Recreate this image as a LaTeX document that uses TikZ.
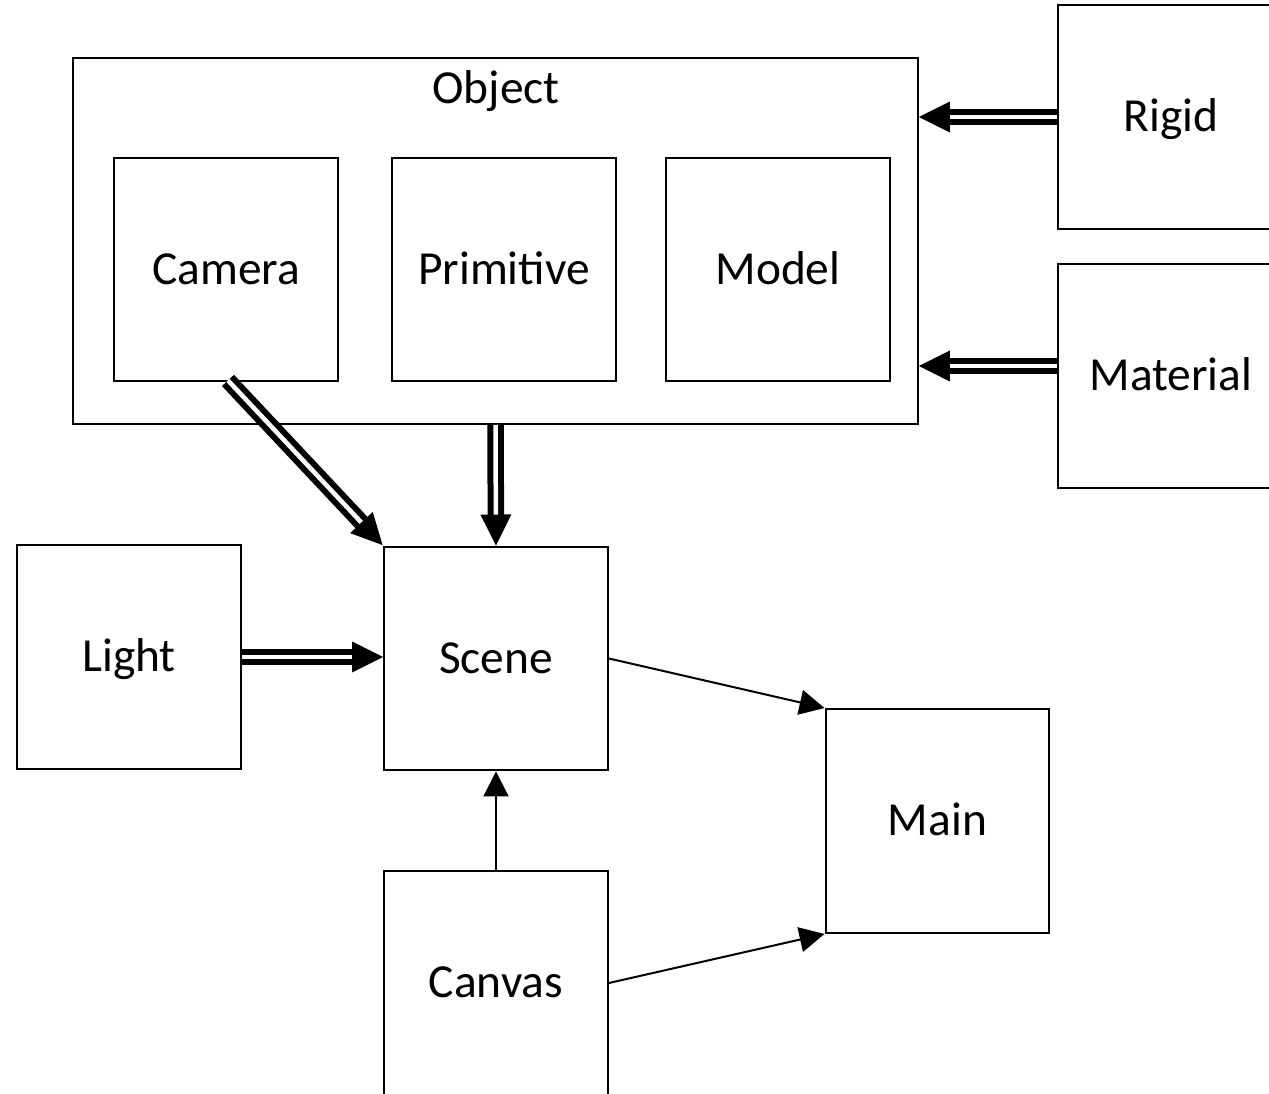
\documentclass[tikz,border=0pt]{standalone}
\usepackage{fontspec}
\setmainfont{Carlito}
\usetikzlibrary{arrows.meta,calc,decorations.markings}
\tikzset{
  txt/.style={font=\fontsize{27}{32}\selectfont, text height=0.6cm, text depth=0cm},
  box/.style={draw, line width=0.04cm, rectangle, inner sep=0pt, minimum width=4.48cm, minimum height=4.48cm, txt},
  dbl/.style={draw, double, double distance=0.09cm, line width=0.12cm, shorten >=0.4cm,
    postaction={decorate, decoration={markings, mark=at position 1 with {\fill[black] (0,0) -- (-0.62cm,0.31cm) -- (-0.62cm,-0.31cm) -- cycle;}}}},
  sgl/.style={draw, line width=0.04cm, -{Triangle[length=0.5cm,width=0.5cm]}}
}
\begin{document}
\begin{tikzpicture}[x=0.02cm,y=-0.02cm]
\useasboundingbox (0,0) rectangle (1269,1094);
\clip (0,0) rectangle (1269,1094);
% Object container
\node[draw, line width=0.04cm, inner sep=0pt, minimum width=16.9cm, minimum height=7.32cm] (object) at (495.5,241) {};
\node[txt, inner sep=0pt] (objlabel) at (496,89) {Object};
\node[box] (camera) at (226,269.5) {Camera};
\node[box] (primitive) at (504,269.5) {Primitive};
\node[box] (model) at (778,269.5) {Model};
\node[box, minimum width=4.52cm] (rigid) at (1171,117) {Rigid};
\node[box, minimum width=4.52cm] (material) at (1171,376) {Material};
\node[box] (light) at (129,657) {Light};
\node[box] (scene) at (496,658.5) {Scene};
\node[box] (main) at (937.5,821) {Main};
\node[box] (canvas) at (496,983) {Canvas};
% connectors
\draw[dbl] (rigid.west) -- (rigid.west -| object.east);
\coordinate (m1) at ($(material.west)+(0,-10)$);
\draw[dbl] (m1) -- (m1 -| object.east);
\draw[dbl] ($(camera.south)+(2,-2)$) -- (scene.north west);
\draw[dbl] (object.south) -- (scene.north);
\draw[dbl] (light.east) -- (light.east -| scene.west);
\draw[sgl] (scene.east) -- (main.north west);
\draw[sgl] (canvas.north) -- (scene.south);
\draw[sgl] (canvas.east) -- (main.south west);
\end{tikzpicture}
\end{document}
